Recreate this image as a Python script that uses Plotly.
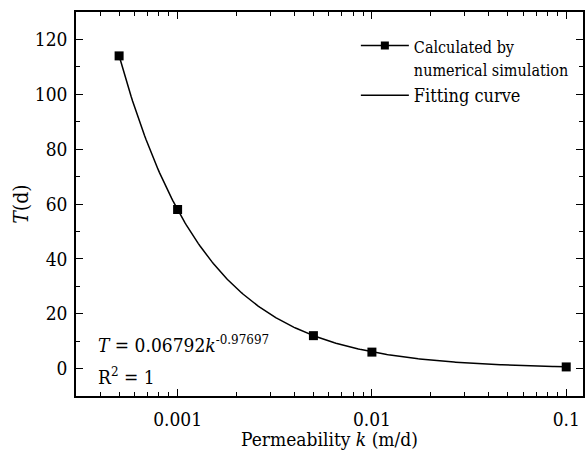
import numpy as np
import plotly.graph_objects as go

# Data
k_values = [0.0005, 0.001, 0.005, 0.01, 0.1]
T_values = [114.0, 58.0, 12.0, 6.0, 0.6]
fit_A = 0.06792
fit_B = -0.97697
x_tick_vals = [0.001, 0.01, 0.1]
x_tick_text = ["0.001", "0.01", "0.1"]
y_tick_vals = [0, 20, 40, 60, 80, 100, 120]

FONT = "DejaVu Serif Condensed, DejaVu Serif"

k_fit = np.logspace(np.log10(k_values[0]), np.log10(k_values[-1]), 300)
T_fit = fit_A * k_fit ** fit_B

fig = go.Figure()
fig.add_trace(go.Scatter(
    x=k_fit, y=T_fit, mode="lines", name="Fitting curve",
    line=dict(color="black", width=1.5), legendrank=2, legendgroup="fit",
))
fig.add_trace(go.Scatter(
    x=k_values, y=T_values, mode="markers", showlegend=False,
    marker=dict(symbol="square", size=9, color="black"),
))
fig.add_trace(go.Scatter(
    x=[None], y=[None], mode="lines+markers",
    name="<span style='font-size:16px'>Calculated by<br>numerical simulation</span>",
    line=dict(color="black", width=1.5),
    marker=dict(symbol="square", size=8, color="black"),
    legendrank=1, legendgroup="sim",
))

minor_x = []
for dec in [0.0001, 0.001, 0.01]:
    for m in range(2, 10):
        minor_x.append(dec * m)

fig.update_layout(
    width=585, height=450,
    margin=dict(l=76, r=0, t=12, b=54),
    paper_bgcolor="white", plot_bgcolor="white",
    font=dict(family=FONT, size=19, color="black"),
    showlegend=True,
    legend=dict(
        x=0.552, y=0.96, xanchor="left", yanchor="top",
        bgcolor="rgba(0,0,0,0)", font=dict(family=FONT, size=18),
        valign="top", traceorder="normal", itemwidth=48, tracegroupgap=5,
    ),
    xaxis=dict(
        type="log", range=[np.log10(0.0003), np.log10(0.122)],
        tickvals=x_tick_vals, ticktext=x_tick_text,
        ticks="inside", ticklen=7, tickwidth=1.2, tickcolor="black",
        showline=True, linecolor="black", linewidth=1.5, mirror="allticks",
        showgrid=False, zeroline=False, ticklabelstandoff=5,
        minor=dict(tickvals=minor_x, ticks="inside", ticklen=4, tickwidth=1, tickcolor="black", showgrid=False),
        title=dict(text="Permeability <i>k</i> (m/d)", font=dict(family=FONT, size=19), standoff=0),
        tickfont=dict(family=FONT, size=19),
    ),
    yaxis=dict(
        range=[-10, 130], tickvals=y_tick_vals,
        ticks="inside", ticklen=7, tickwidth=1.2, tickcolor="black",
        showline=True, linecolor="black", linewidth=1.5, mirror="allticks",
        showgrid=False, zeroline=False, ticklabelstandoff=3,
        minor=dict(dtick=10, tick0=0, ticks="inside", ticklen=4, tickwidth=1, tickcolor="black", showgrid=False),
        title=dict(text="<i>T</i>(d)", font=dict(family=FONT, size=21), standoff=0),
        tickfont=dict(family=FONT, size=19),
    ),
)

fig.add_annotation(
    xref="paper", yref="paper", x=0.04, y=0.135, xanchor="left", yanchor="middle",
    text="<i>T</i> = 0.06792<i>k</i><sup>-0.97697</sup>", showarrow=False,
    font=dict(family=FONT, size=19),
)
fig.add_annotation(
    xref="paper", yref="paper", x=0.04, y=0.052, xanchor="left", yanchor="middle",
    text="R<sup>2</sup> = 1", showarrow=False,
    font=dict(family=FONT, size=19),
)

fig.write_html("out.html")
